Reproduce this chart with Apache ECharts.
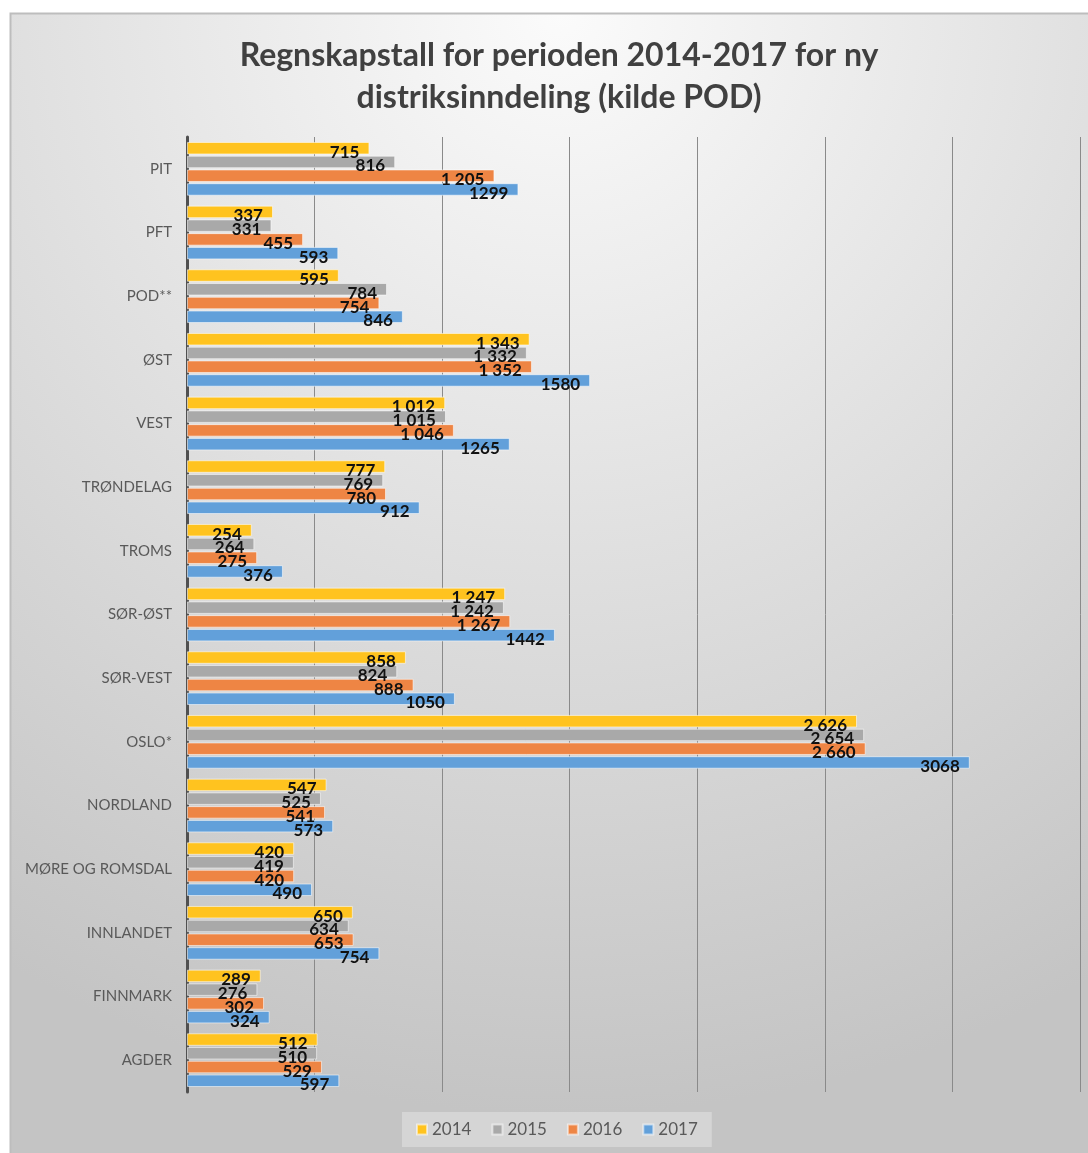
<!DOCTYPE html>
<html>
<head>
<meta charset="utf-8">
<script src="https://cdn.jsdelivr.net/npm/echarts@6/dist/echarts.min.js"></script>
<style>
  html, body { margin: 0; padding: 0; background: #ffffff; }
  #chart { width: 1088px; height: 1153px; }
</style>
</head>
<body>
<div id="chart"></div>
<script>
// Districts, listed top to bottom
const categories = ['PIT', 'PFT', 'POD**', 'ØST', 'VEST', 'TRØNDELAG', 'TROMS', 'SØR-ØST',
  'SØR-VEST', 'OSLO*', 'NORDLAND', 'MØRE OG ROMSDAL', 'INNLANDET', 'FINNMARK', 'AGDER'];

const years = ['2014', '2015', '2016', '2017'];

const values2014 = [715, 337, 595, 1343, 1012, 777, 254, 1247, 858, 2626, 547, 420, 650, 289, 512];
const values2015 = [816, 331, 784, 1332, 1015, 769, 264, 1242, 824, 2654, 525, 419, 634, 276, 510];
const values2016 = [1205, 455, 754, 1352, 1046, 780, 275, 1267, 888, 2660, 541, 420, 653, 302, 529];
const values2017 = [1299, 593, 846, 1580, 1265, 912, 376, 1442, 1050, 3068, 573, 490, 754, 324, 597];

const seriesValues = [values2014, values2015, values2016, values2017];
const colors = ['#FFC31F', '#A9A9A9', '#EE8544', '#62A0DA'];
// 2014-2016 labels use a space as thousands separator, 2017 does not
const groupThousands = [true, true, true, false];

const chart = echarts.init(document.getElementById('chart'));

function fmt(v, group) {
  if (!group || v < 1000) return String(v);
  const s = String(v);
  return s.slice(0, s.length - 3) + ' ' + s.slice(-3);
}

const series = years.map((y, i) => ({
  name: y,
  type: 'bar',
  data: seriesValues[i],
  barWidth: 12.5,
  barGap: '10%',
  itemStyle: {
    color: colors[i],
    borderColor: 'rgba(255,255,255,0.55)',
    borderWidth: 1
  },
  label: {
    show: true,
    position: 'insideRight',
    distance: 10,
    offset: [0, 4],
    fontFamily: 'Lato',
    fontWeight: 'bold',
    fontSize: 17,
    color: '#111111',
    formatter: p => fmt(p.value, groupThousands[i])
  }
}));

chart.setOption({
  animation: false,
  textStyle: { fontFamily: 'Lato' },
  graphic: [{
    type: 'rect',
    silent: true,
    z: -10,
    shape: { x: 10.5, y: 13.5, width: 1100, height: 1160 },
    style: {
      fill: {
        type: 'radial', x: 0.5, y: 0.0, r: 1.0,
        colorStops: [
          { offset: 0, color: '#fbfbfb' },
          { offset: 0.45, color: '#e2e2e2' },
          { offset: 1, color: '#c4c4c4' }
        ]
      },
      stroke: '#bdbdbd',
      lineWidth: 2
    }
  }],
  title: {
    text: 'Regnskapstall for perioden 2014-2017 for ny\ndistriksinndeling (kilde POD)',
    left: 554,
    top: 30,
    textAlign: 'center',
    textStyle: {
      fontFamily: 'Lato',
      fontWeight: 'bold',
      fontSize: 32,
      lineHeight: 42,
      color: '#404040'
    }
  },
  legend: {
    data: years,
    bottom: 6,
    left: 402,
    itemWidth: 10,
    itemHeight: 10,
    itemGap: 20,
    icon: 'rect',
    backgroundColor: 'rgba(235,235,235,0.45)',
    padding: [9, 14],
    textStyle: { fontFamily: 'Lato', fontSize: 17, color: '#595959' }
  },
  grid: { left: 187, right: 8, top: 137, bottom: 61, containLabel: false },
  xAxis: {
    type: 'value',
    min: 0,
    max: 3500,
    interval: 500,
    axisLabel: { show: false },
    axisLine: { show: false },
    axisTick: { show: false },
    splitLine: { show: true, lineStyle: { color: '#8a8a8a', width: 1 } }
  },
  yAxis: {
    type: 'category',
    data: categories,
    inverse: true,
    axisTick: { show: false },
    axisLine: { show: true, lineStyle: { color: '#505050', width: 3 } },
    axisLabel: { fontFamily: 'Lato', fontSize: 15, color: '#595959', margin: 15 }
  },
  series: series
});
</script>
</body>
</html>
